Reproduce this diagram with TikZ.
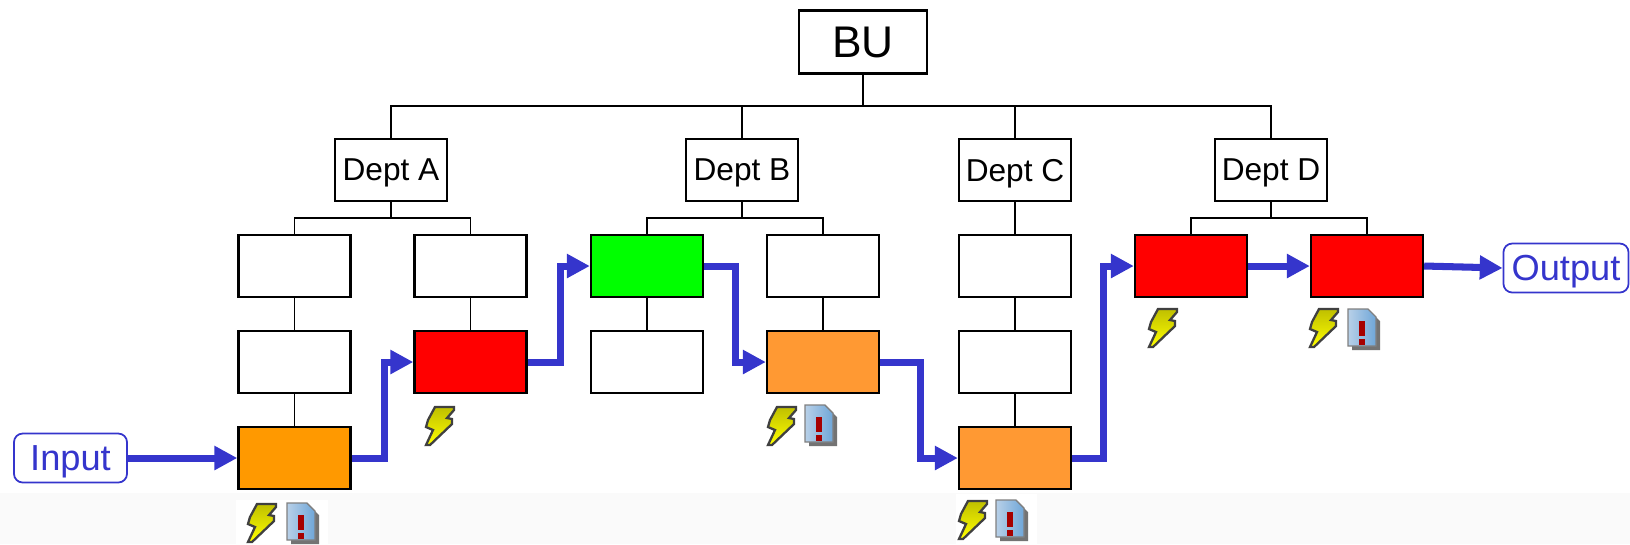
\documentclass[tikz,border=0pt]{standalone}
\usepackage{fontspec}
\setmainfont{Liberation Sans}
\usetikzlibrary{arrows.meta}
\usepackage{xcolor}

\definecolor{flowblue}{HTML}{3535CC}
\definecolor{darkorange}{HTML}{FF9900}
\definecolor{softorange}{HTML}{FF9933}
\definecolor{stripgray}{HTML}{FAFAFA}
\definecolor{noteleft}{HTML}{B8D0E8}
\definecolor{noteright}{HTML}{6FA6D8}

\tikzset{
	unit/.style = {draw = black, line width = 0.65pt, minimum width = 1.12cm, minimum height = 0.62cm, inner sep = 0pt},
	dept/.style = {unit, text depth = 0pt, font = \fontsize{9}{11}\selectfont},
	port/.style = {draw = flowblue, line width = 0.5pt, rounded corners = 2.5pt, text = flowblue, text depth = 0pt, minimum height = 0.49cm, inner sep = 0pt, font = \fontsize{10.3}{12}\selectfont},
	tree/.style = {draw = black, line width = 0.55pt},
	flow/.style = {draw = flowblue, line width = 2pt, -{Triangle[length = 6.5pt, width = 6.5pt]}},
	pics/boltIcon/.style = {code = {
		\draw[draw = black!75, line width = 0.65pt, line join = miter, top color = yellow!75!black, bottom color = yellow]
			(10, 1) -- (29, 1) -- (29, 4) -- (22, 12) -- (27, 13) -- (27, 18) -- (5, 39) -- (1, 39) -- (8, 24) -- (1, 21) -- (3, 14) -- cycle;
	}},
	pics/noteIcon/.style = {code = {
		\fill[black!55] (4, 4) -- (24, 4) -- (32, 12) -- (32, 41) -- (4, 41) -- cycle; % sombra
		\draw[draw = black!50, line width = 0.4pt, left color = noteleft, right color = noteright]
			(0, 0) -- (20, 0) -- (28, 8) -- (28, 37) -- (0, 37) -- cycle;
		\fill[red!65!black] (11, 12) rectangle (17, 27);
		\fill[red!65!black] (11, 30) rectangle (17, 36);
	}}
}

\begin{document}
\begin{tikzpicture}[x = 0.01cm, y = -0.01cm]

	\useasboundingbox (0, 0) rectangle (1630, 544);

	\fill[stripgray] (0, 493) rectangle (1630, 544);
	\fill[white] (236, 500) rectangle (328, 544);
	\fill[white] (956, 494) rectangle (1037, 544);

	\node[unit, minimum width = 1.28cm, minimum height = 0.63cm, font = \fontsize{12.6}{15}\selectfont] (bu) at (863, 42) {BU};

	\node[dept] (deptA) at (391, 170) {Dept A};
	\node[dept] (deptB) at (742, 170) {Dept B};
	\node[dept] (deptC) at (1015, 170) {Dept C};
	\node[dept] (deptD) at (1271, 170) {Dept D};

	% primeira linha
	\node[unit] (a1) at (294.5, 266) {};
	\node[unit] (b1) at (470.5, 266) {};
	\node[unit, fill = green] (c1) at (647, 266) {};
	\node[unit] (d1) at (823, 266) {};
	\node[unit] (e1) at (1015, 266) {};
	\node[unit, fill = red] (f1) at (1191, 266) {};
	\node[unit, fill = red] (g1) at (1367, 266) {};

	% segunda linha
	\node[unit] (a2) at (294.5, 362) {};
	\node[unit, fill = red] (b2) at (470.5, 362) {};
	\node[unit] (c2) at (647, 362) {};
	\node[unit, fill = softorange] (d2) at (823, 362) {};
	\node[unit] (e2) at (1015, 362) {};

	% terceira linha
	\node[unit, fill = darkorange] (a3) at (294.5, 458) {};
	\node[unit, fill = softorange] (e3) at (1015, 458) {};

	\node[port, minimum width = 1.13cm] (input) at (70.5, 458) {Input};
	\node[port, minimum width = 1.25cm] (output) at (1566, 268) {Output};

	\coordinate (buBus) at (863, 106);
	\coordinate (busA) at (391, 218);
	\coordinate (busB) at (742, 218);
	\coordinate (busD) at (1271, 218);

	\draw[tree] (bu.south) -- (buBus);
	\foreach \d in {deptA, deptB, deptC, deptD}
		\draw[tree] (buBus) -| (\d.north);

	\draw[tree] (deptA.south) -- (busA);
	\draw[tree] (busA) -| (a1.north);
	\draw[tree] (busA) -| (b1.north);
	\draw[tree] (deptB.south) -- (busB);
	\draw[tree] (busB) -| (c1.north);
	\draw[tree] (busB) -| (d1.north);
	\draw[tree] (deptC.south) -- (e1.north);
	\draw[tree] (deptD.south) -- (busD);
	\draw[tree] (busD) -| (f1.north);
	\draw[tree] (busD) -| (g1.north);

	\draw[tree] (a1.south) -- (a2.north);
	\draw[tree] (a2.south) -- (a3.north);
	\draw[tree] (b1.south) -- (b2.north);
	\draw[tree] (c1.south) -- (c2.north);
	\draw[tree] (d1.south) -- (d2.north);
	\draw[tree] (e1.south) -- (e2.north);
	\draw[tree] (e2.south) -- (e3.north);

	\draw[flow] (input.east) -- (a3.west);
	\draw[flow] (a3.east) -- ++(33, 0) |- (b2.west);
	\draw[flow] (b2.east) -- ++(33, 0) |- (c1.west);
	\draw[flow] (c1.east) -- ++(31, 0) |- (d2.west);
	\draw[flow] (d2.east) -- ++(40, 0) |- (e3.west);
	\draw[flow] (e3.east) -- ++(31, 0) |- (f1.west);
	\draw[flow] (f1.east) -- (g1.west);
	\draw[flow] (g1.east) -- (output.west);

	\foreach \x/\y in {247/503, 425/406, 767/406, 958/500, 1148/308, 1309/308}
		\pic at (\x, \y) {boltIcon};
	\foreach \x/\y in {287/503, 805/405, 996/500, 1348/309}
		\pic at (\x, \y) {noteIcon};

\end{tikzpicture}
\end{document}
